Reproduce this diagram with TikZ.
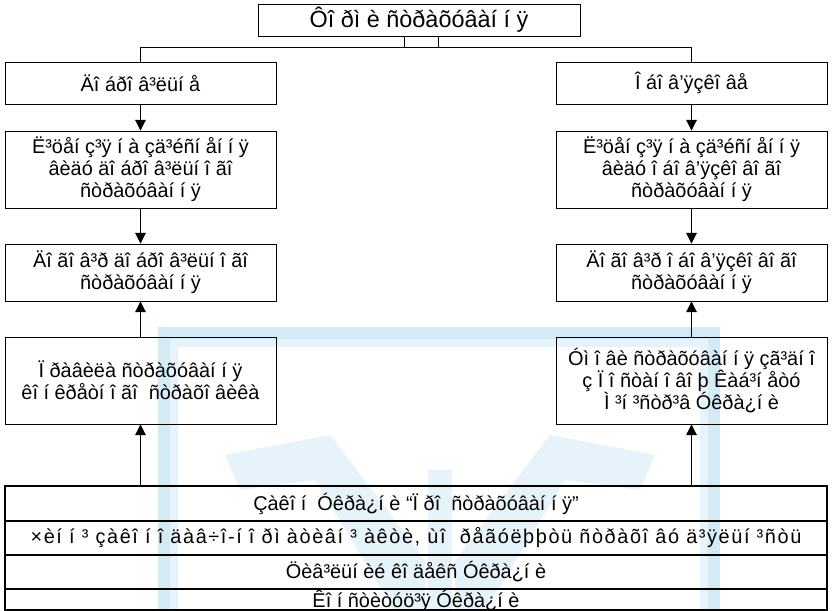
\documentclass[tikz,border=0pt]{standalone}
\usepackage{fontspec}
\setmainfont{Liberation Sans}
\newfontfamily\widesans{Liberation Sans}[LetterSpace=8]
\usetikzlibrary{positioning, arrows, arrows.meta, calc}

\definecolor{wmblue}{RGB}{212,234,245}
\definecolor{wmpale}{RGB}{230,243,250}

\begin{document}
\begin{tikzpicture}[x=0.03cm, y=-0.03cm,
    box/.style = {shape=rectangle, draw, line width=0.8pt, align=center,
    font=\fontsize{17}{18.7}\selectfont, inner sep=0pt, minimum width=8.13cm},
    row/.style = {shape=rectangle, draw, line width=0.9pt, align=center,
    font=\fontsize{17}{18.7}\selectfont, inner sep=0pt,
    minimum width=24.66cm, minimum height=1.02cm},
    line/.style={draw, line width=0.8pt, -{Triangle[length=9pt, width=9pt]}}]

  \useasboundingbox (0,0) rectangle (832,611);

  % watermark
  \fill[wmblue] (158,327) rectangle (720,640);
  \fill[wmpale] (170,339) rectangle (708,640);
  \fill[white] (178,347) rectangle (700,640);
  \fill[wmpale] (225,455) -- (330,435) -- (425,560) -- (425,611) -- (395,611)
    -- (315,480) -- (240,490) -- cycle;
  \fill[wmpale] (655,455) -- (550,435) -- (455,560) -- (455,611) -- (485,611)
    -- (565,480) -- (640,490) -- cycle;
  \fill[wmpale] (428,470) rectangle (452,611);

  % top
  \node[box, font=\fontsize{20}{22}\selectfont, minimum width=9.66cm,
    minimum height=0.96cm] (forms) at (419,20) {Ôî ðì è ñòðàõóâàí í ÿ};
  \coordinate (split) at (419,47);

  % left column
  \node[box, minimum height=1.26cm] (vol) at (140.5,83) {Äî áðî â³ëüí å};
  \node[box, minimum height=2.31cm] (vollic) at (140.5,169.5)
    {Ë³öåí ç³ÿ í à çä³éñí åí í ÿ\\âèäó äî áðî â³ëüí î ãî\\ñòðàõóâàí í ÿ};
  \node[box, minimum height=1.71cm] (volcon) at (140.5,272.5)
    {Äî ãî â³ð äî áðî â³ëüí î ãî\\ñòðàõóâàí í ÿ};
  \node[box, minimum height=2.61cm] (rules) at (140.5,380.5)
    {Ï ðàâèëà ñòðàõóâàí í ÿ\\êî í êðåòí î ãî~ ñòðàõî âèêà};

  % right column
  \node[box, minimum height=1.26cm] (obl) at (691.5,83) {Î áî â’ÿçêî âå};
  \node[box, minimum height=2.31cm] (obllic) at (691.5,169.5)
    {Ë³öåí ç³ÿ í à çä³éñí åí í ÿ\\âèäó î áî â’ÿçêî âî ãî\\ñòðàõóâàí í ÿ};
  \node[box, minimum height=1.71cm] (oblcon) at (691.5,272.5)
    {Äî ãî â³ð î áî â’ÿçêî âî ãî\\ñòðàõóâàí í ÿ};
  \node[box, minimum height=2.61cm] (terms) at (691.5,380.5)
    {Óì î âè ñòðàõóâàí í ÿ çã³äí î\\ç Ï î ñòàí î âî þ Êàá³í åòó\\Ì ³í ³ñòð³â Óêðà¿í è};

  % legal base
  \node[row, minimum height=1.05cm] (law) at (416,503.5)
    {Çàêî í~ Óêðà¿í è “Ï ðî~ ñòðàõóâàí í ÿ”};
  \node[row, font=\fontsize{17}{18.7}\widesans] (acts) at (416,538)
    {×èí í ³ çàêî í î äàâ÷î-í î ðì àòèâí ³ àêòè, ùî~ ðåãóëþþòü ñòðàõî âó ä³ÿëüí ³ñòü};
  \node[row] (civil) at (416,572) {Öèâ³ëüí èé êî äåêñ Óêðà¿í è};
  \draw[line width=0.9pt] (5,589) rectangle (827,610);
  \node[font=\fontsize{17}{18.7}\selectfont, inner sep=0pt] (const) at (416,601)
    {Êî í ñòèòóö³ÿ Óêðà¿í è};

  % connectors
  \draw[line width=0.8pt] ($(forms.south)+(-15,0)$) -- ($(split)+(-15,0)$);
  \draw[line width=0.8pt] ($(forms.south)+(19,0)$) -- ($(split)+(19,0)$);
  \draw[line width=0.8pt] (split -| vol) -- (split -| obl);
  \draw[line width=0.8pt] (split -| vol) -- (vol.north);
  \draw[line width=0.8pt] (split -| obl) -- (obl.north);

  \draw[line] (vol) -- (vollic);
  \draw[line] (vollic) -- (volcon);
  \draw[line] (rules) -- (volcon);
  \draw[line] (law.north -| rules) -- (rules);

  \draw[line] (obl) -- (obllic);
  \draw[line] (obllic) -- (oblcon);
  \draw[line] (terms) -- (oblcon);
  \draw[line] (law.north -| terms) -- (terms);

\end{tikzpicture}
\end{document}
